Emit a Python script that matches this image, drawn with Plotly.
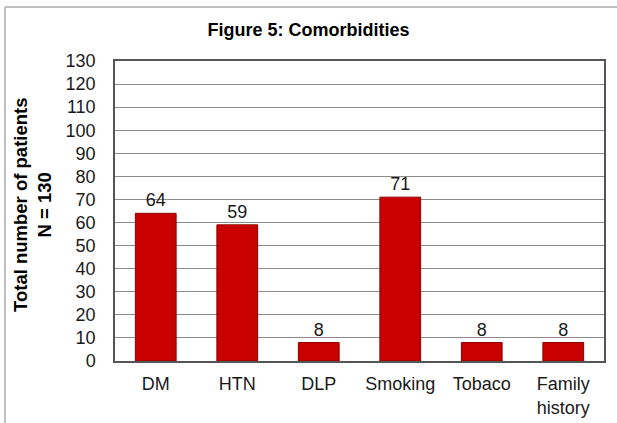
import plotly.graph_objects as go

categories = ["DM", "HTN", "DLP", "Smoking", "Tobaco", "Family<br>history"]
patients = [64, 59, 8, 71, 8, 8]
y_ticks = list(range(0, 131, 10))

FONT = "Liberation Sans, Arial, sans-serif"

fig = go.Figure()
fig.add_trace(go.Bar(
    x=categories,
    y=patients,
    width=0.5,
    marker=dict(color="#C90000", line=dict(color="#8E0000", width=1)),
    text=[str(v) for v in patients],
    textposition="outside",
    textfont=dict(family=FONT, size=18, color="#1a1a1a"),
    cliponaxis=False,
))

fig.update_layout(
    width=617, height=423,
    margin=dict(l=115, r=13, t=61, b=62, autoexpand=False),
    paper_bgcolor="white", plot_bgcolor="white",
    showlegend=False,
    font=dict(family=FONT, size=18, color="#1a1a1a"),
    title=dict(text="<b>Figure 5: Comorbidities</b>", x=0.5, xanchor="center",
               y=1 - 30 / 423, yanchor="middle", yref="container",
               font=dict(family=FONT, size=18, color="#000000")),
    xaxis=dict(showgrid=False, showline=True, linecolor="#555555", linewidth=1.5,
               mirror=True, ticks="", tickfont=dict(size=18),
               ticklabelstandoff=6, automargin=False),
    yaxis=dict(range=[0, 130], tickvals=y_ticks, showgrid=True,
               gridcolor="#8c8c8c", gridwidth=1, showline=True,
               linecolor="#555555", linewidth=1.5, mirror=True,
               ticks="outside", ticklen=0, ticklabelstandoff=14,
               tickfont=dict(size=18), zeroline=False, automargin=False),
    bargap=0.5,
)

# y-axis title
fig.add_annotation(
    text="<b>Total number of patients<br>N = 130</b>",
    xref="paper", yref="paper", x=(32 - 115) / 489, y=0.52,
    xanchor="center", yanchor="middle", textangle=-90, showarrow=False,
    font=dict(family=FONT, size=18.5, color="#000000"),
)

# outer frame of the chart
frame = dict(color="#BFBFBF", width=2)
fig.add_shape(type="line", xref="paper", yref="paper",
              x0=(5 - 115) / 489, x1=(620 - 115) / 489,
              y0=(361 - 7) / 300, y1=(361 - 7) / 300, line=frame)
fig.add_shape(type="line", xref="paper", yref="paper",
              x0=(5 - 115) / 489, x1=(5 - 115) / 489,
              y0=(361 - 7) / 300, y1=(361 - 425) / 300, line=frame)

fig.write_html("out.html")
